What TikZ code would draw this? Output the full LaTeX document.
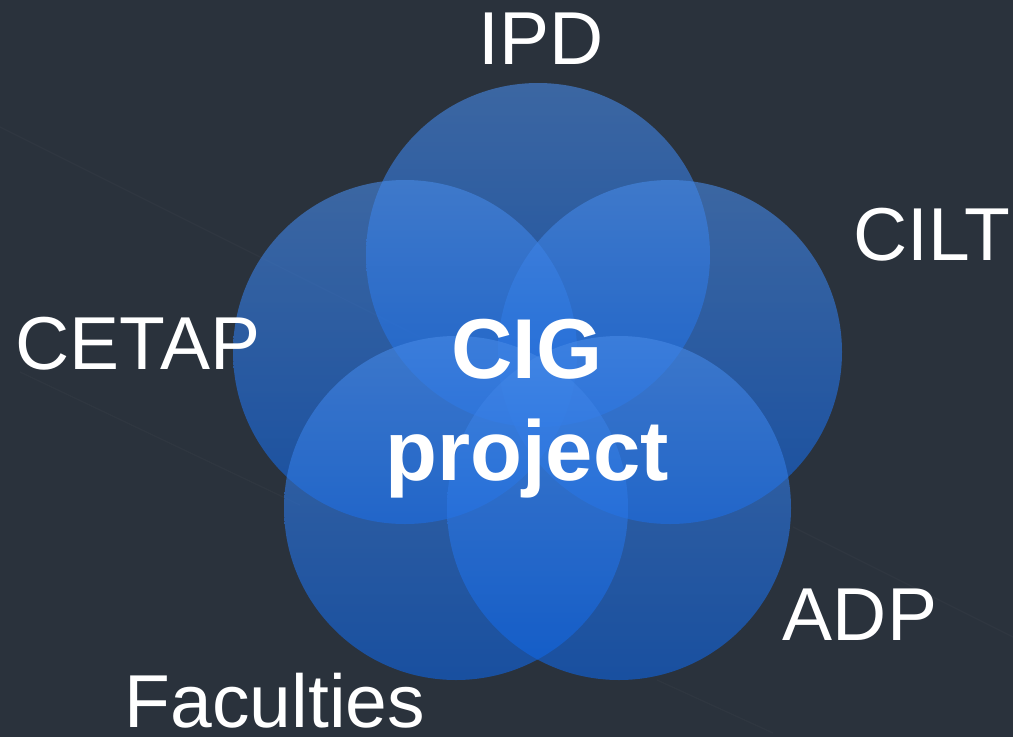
\documentclass[tikz,border=0pt]{standalone}
\usepackage{fontspec}
\setmainfont{Liberation Sans}
\usepackage{tikz}
\definecolor{SlateBg}{HTML}{2A323C}
\definecolor{RingTop}{RGB}{72,138,230}
\definecolor{RingBottom}{RGB}{14,100,228}
\tikzset{
  ring/.style={circle, minimum size=344, inner sep=0pt,
    top color=RingTop, bottom color=RingBottom, fill opacity=0.6},
  unit/.style={anchor=base, inner sep=0pt, text=white,
    font=\fontsize{75}{75}\selectfont},
  core/.style={anchor=base, inner sep=0pt, text=white,
    font=\fontsize{85}{85}\selectfont\bfseries},
  streak/.style={white, opacity=0.025, line width=1.2pt}
}

\begin{document}
\begin{tikzpicture}[x=1pt,y=-1pt]
      % Background
      \fill[SlateBg] (0,0) rectangle (1013,737);
      \useasboundingbox (0,0) rectangle (1013,737);
      \draw[streak] (0,127) -- (420,337);
      \draw[streak] (20,372) -- (300,505);
      \draw[streak] (793,527) -- (1013,637);
      \draw[streak] (657,680) -- (773,733);

      % Five circles
      \node[ring] (ipd) at (538,255) {};
      \node[ring] (cetap) at (405,352) {};
      \node[ring] (cilt) at (670,352) {};
      \node[ring] (fac) at (456,508) {};
      \node[ring] (adp) at (619,508) {};

      % Centre text
      \node[core] (cig) at (527,378) {CIG};
      \node[core] (proj) at (527,480) {project};

      % Partner labels
      \node[unit] (ipdlab) at (541,64) {IPD};
      \node[unit] (ciltlab) at (932,260) {CILT};
      \node[unit] (cetaplab) at (138,369) {CETAP};
      \node[unit] (adplab) at (860,640) {ADP};
      \node[unit] (faclab) at (275,727) {Faculties};

    \end{tikzpicture}
\end{document}
